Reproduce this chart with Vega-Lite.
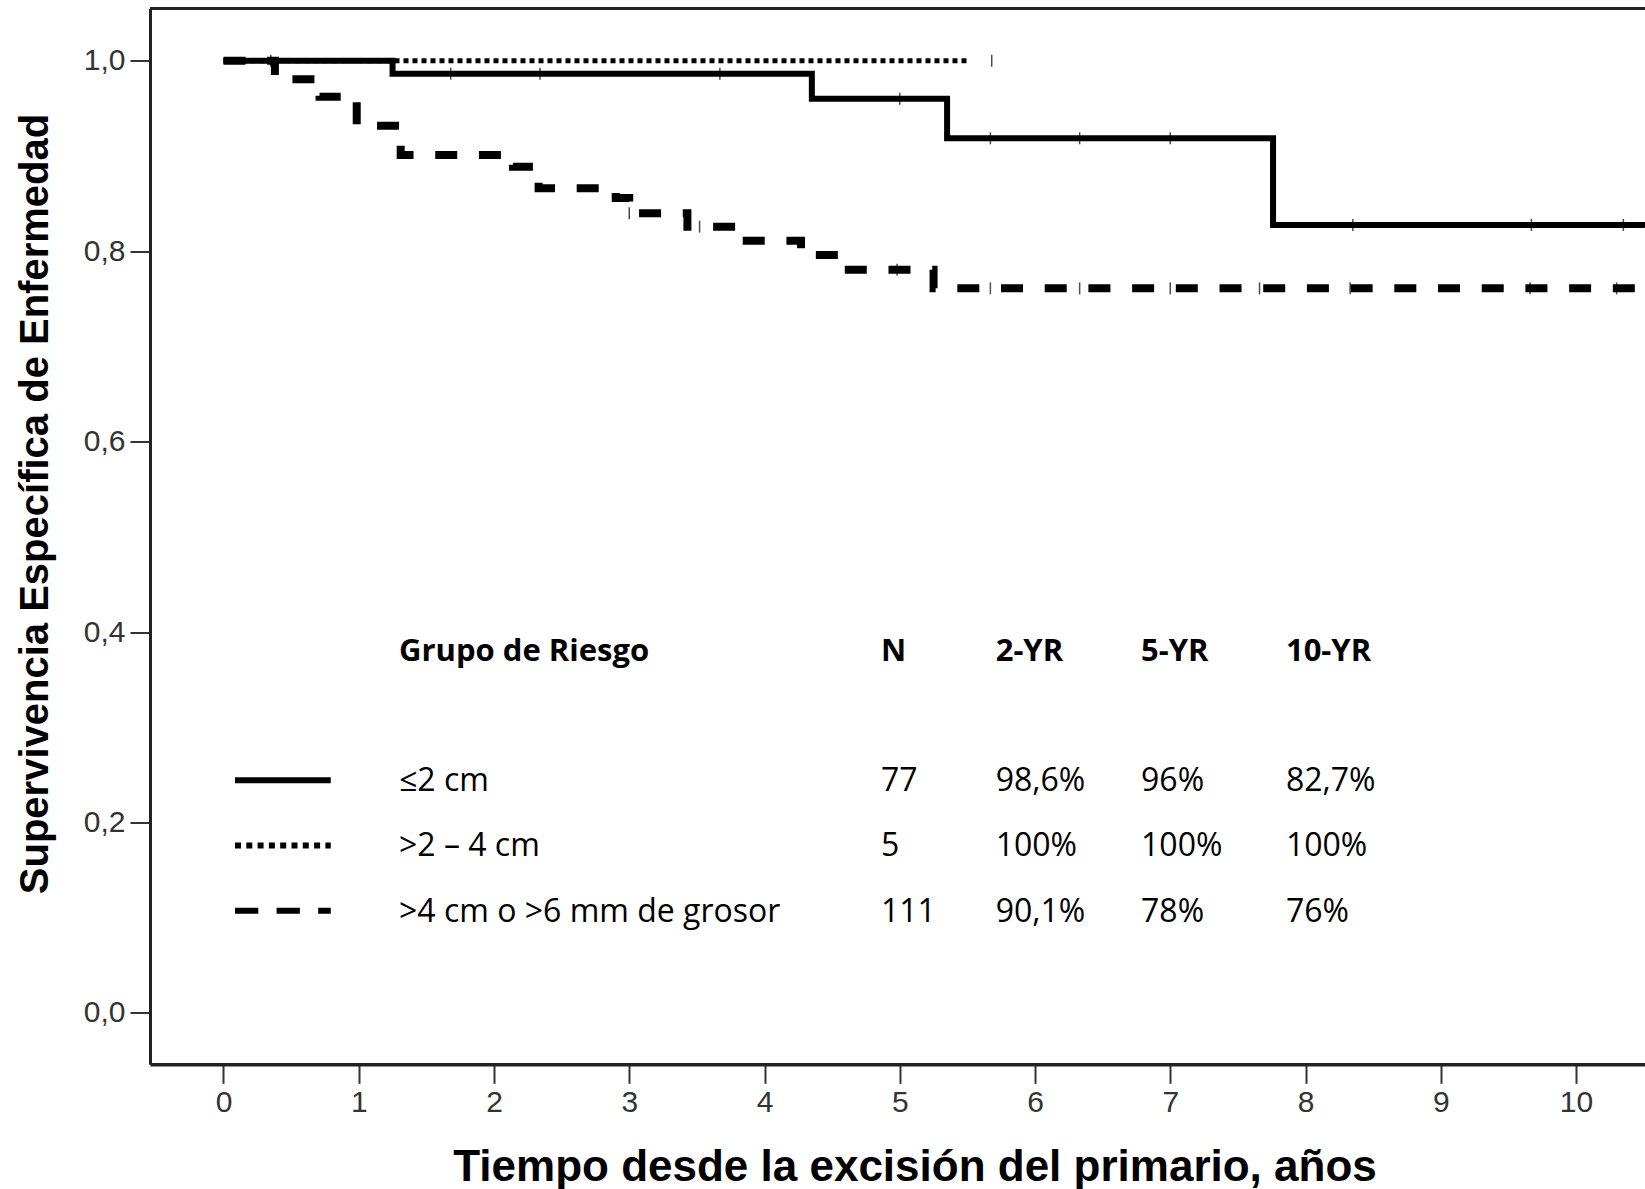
{
  "$schema": "https://vega.github.io/schema/vega-lite/v6.json",
  "width": 1495,
  "height": 1055.8,
  "autosize": {"type": "none"},
  "padding": {"left": 150, "top": 8.5, "right": 0, "bottom": 124.7},
  "background": "white",
  "config": {"view": {"stroke": null}, "font": "Liberation Sans"},
  "datasets": {
    "curvas": [
      {"grupo": ">4 cm o >6 mm de grosor", "t": 0, "s": 1.0},
      {"grupo": ">4 cm o >6 mm de grosor", "t": 0.38, "s": 0.9806},
      {"grupo": ">4 cm o >6 mm de grosor", "t": 0.71, "s": 0.9623},
      {"grupo": ">4 cm o >6 mm de grosor", "t": 0.985, "s": 0.9318},
      {"grupo": ">4 cm o >6 mm de grosor", "t": 1.31, "s": 0.9011},
      {"grupo": ">4 cm o >6 mm de grosor", "t": 2.14, "s": 0.8888},
      {"grupo": ">4 cm o >6 mm de grosor", "t": 2.33, "s": 0.8661},
      {"grupo": ">4 cm o >6 mm de grosor", "t": 2.9, "s": 0.8559},
      {"grupo": ">4 cm o >6 mm de grosor", "t": 3.0, "s": 0.8398},
      {"grupo": ">4 cm o >6 mm de grosor", "t": 3.43, "s": 0.8258},
      {"grupo": ">4 cm o >6 mm de grosor", "t": 3.8, "s": 0.811},
      {"grupo": ">4 cm o >6 mm de grosor", "t": 4.27, "s": 0.803},
      {"grupo": ">4 cm o >6 mm de grosor", "t": 4.37, "s": 0.796},
      {"grupo": ">4 cm o >6 mm de grosor", "t": 4.56, "s": 0.7805},
      {"grupo": ">4 cm o >6 mm de grosor", "t": 5.25, "s": 0.761},
      {"grupo": ">4 cm o >6 mm de grosor", "t": 10.51, "s": 0.761},
      {"grupo": "≤2 cm", "t": 0, "s": 1.0},
      {"grupo": "≤2 cm", "t": 1.25, "s": 0.9865},
      {"grupo": "≤2 cm", "t": 4.35, "s": 0.96},
      {"grupo": "≤2 cm", "t": 5.35, "s": 0.9186},
      {"grupo": "≤2 cm", "t": 7.76, "s": 0.8276},
      {"grupo": "≤2 cm", "t": 10.51, "s": 0.8276},
      {"grupo": ">2 – 4 cm", "t": 0, "s": 1.0},
      {"grupo": ">2 – 4 cm", "t": 5.5, "s": 1.0}
    ],
    "censuras": [
      {"grupo": "≤2 cm", "t": 1.68, "s": 0.9865},
      {"grupo": "≤2 cm", "t": 2.34, "s": 0.9865},
      {"grupo": "≤2 cm", "t": 3.67, "s": 0.9865},
      {"grupo": "≤2 cm", "t": 5.0, "s": 0.96},
      {"grupo": "≤2 cm", "t": 5.67, "s": 0.9186},
      {"grupo": "≤2 cm", "t": 6.33, "s": 0.9186},
      {"grupo": "≤2 cm", "t": 7.0, "s": 0.9186},
      {"grupo": "≤2 cm", "t": 8.35, "s": 0.8276},
      {"grupo": "≤2 cm", "t": 9.67, "s": 0.8276},
      {"grupo": "≤2 cm", "t": 10.35, "s": 0.8276},
      {"grupo": ">2 – 4 cm", "t": 5.68, "s": 1.0},
      {"grupo": ">4 cm o >6 mm de grosor", "t": 0.35, "s": 1.0},
      {"grupo": ">4 cm o >6 mm de grosor", "t": 3.0, "s": 0.8398},
      {"grupo": ">4 cm o >6 mm de grosor", "t": 3.52, "s": 0.8258},
      {"grupo": ">4 cm o >6 mm de grosor", "t": 4.98, "s": 0.7805},
      {"grupo": ">4 cm o >6 mm de grosor", "t": 5.67, "s": 0.761},
      {"grupo": ">4 cm o >6 mm de grosor", "t": 6.33, "s": 0.761},
      {"grupo": ">4 cm o >6 mm de grosor", "t": 7.0, "s": 0.761},
      {"grupo": ">4 cm o >6 mm de grosor", "t": 7.66, "s": 0.761},
      {"grupo": ">4 cm o >6 mm de grosor", "t": 8.33, "s": 0.761},
      {"grupo": ">4 cm o >6 mm de grosor", "t": 9.66, "s": 0.761},
      {"grupo": ">4 cm o >6 mm de grosor", "t": 10.3, "s": 0.761}
    ],
    "tabla": [
      {"grupo": "≤2 cm", "N": "77", "a2": "98,6%", "a5": "96%", "a10": "82,7%"},
      {"grupo": ">2 – 4 cm", "N": "5", "a2": "100%", "a5": "100%", "a10": "100%"},
      {"grupo": ">4 cm o >6 mm de grosor", "N": "111", "a2": "90,1%", "a5": "78%", "a10": "76%"}
    ],
    "encabezado": [
      {"grupo": "Grupo de Riesgo", "N": "N", "a2": "2-YR", "a5": "5-YR", "a10": "10-YR"}
    ]
  },
  "layer": [
    {
      "layer": [
        {
          "data": {"values": [{}]},
          "mark": {"type": "rule", "color": "#222", "strokeWidth": 3},
          "encoding": {"y": {"datum": 1.0549, "type": "quantitative"}}
        },
        {
          "data": {"name": "curvas"},
          "mark": {"type": "line", "interpolate": "step-after", "color": "black", "strokeCap": "butt", "strokeJoin": "miter"},
          "encoding": {
            "x": {
              "field": "t", "type": "quantitative",
              "scale": {"domain": [-0.5434, 10.51], "nice": false, "zero": false},
              "axis": {
                "values": [0, 1, 2, 3, 4, 5, 6, 7, 8, 9, 10],
                "format": "d",
                "grid": false,
                "title": "Tiempo desde la excisión del primario, años",
                "titleFont": "Liberation Sans", "titleFontSize": 44, "titleFontWeight": "bold", "titleColor": "black",
                "titleX": 764.5, "titleY": 115.7, "titleBaseline": "alphabetic", "titleAlign": "center", "titleAnchor": null,
                "labelFont": "Liberation Sans", "labelFontSize": 30, "labelColor": "#333",
                "labelPadding": 4, "labelFlush": false,
                "tickSize": 19, "tickWidth": 2, "tickColor": "#333",
                "domainWidth": 3.5, "domainColor": "#222"
              }
            },
            "y": {
              "field": "s", "type": "quantitative",
              "scale": {"domain": [-0.0539, 1.0549], "nice": false, "zero": false},
              "axis": {
                "values": [0, 0.2, 0.4, 0.6, 0.8, 1.0],
                "labelExpr": "replace(format(datum.value, '.1f'), '.', ',')",
                "grid": false,
                "title": "Supervivencia Específica de Enfermedad",
                "titleFont": "Liberation Sans", "titleFontSize": 40, "titleFontWeight": "bold", "titleColor": "black",
                "titleX": -103, "titleY": 495, "titleAngle": 270, "titleBaseline": "alphabetic", "titleAlign": "center", "titleAnchor": null,
                "labelFont": "Liberation Sans", "labelFontSize": 30, "labelColor": "#333",
                "labelPadding": 5, "labelFlush": false,
                "tickSize": 20, "tickWidth": 2, "tickColor": "#333",
                "domainWidth": 3, "domainColor": "#222"
              }
            },
            "detail": {"field": "grupo", "type": "nominal"},
            "strokeDash": {
              "field": "grupo", "type": "nominal",
              "scale": {"domain": ["≤2 cm", ">2 – 4 cm", ">4 cm o >6 mm de grosor"], "range": [[1, 0], [5, 4], [22, 21.7]]},
              "legend": null
            },
            "strokeWidth": {
              "field": "grupo", "type": "nominal",
              "scale": {"type": "ordinal", "domain": ["≤2 cm", ">2 – 4 cm", ">4 cm o >6 mm de grosor"], "range": [6, 5, 8]},
              "legend": null
            }
          }
        },
        {
          "data": {"name": "censuras"},
          "mark": {"type": "tick", "orient": "vertical", "size": 12, "thickness": 1.5, "color": "black"},
          "encoding": {
            "x": {"field": "t", "type": "quantitative"},
            "y": {"field": "s", "type": "quantitative"}
          }
        }
      ]
    },
    {
      "layer": [
        {
          "data": {"name": "tabla"},
          "mark": {"type": "rule", "color": "black", "strokeWidth": 6, "strokeCap": "butt", "yOffset": -11},
          "encoding": {
            "x": {"datum": 0.085, "type": "quantitative", "scale": {"domain": [-0.5434, 10.51], "nice": false, "zero": false}, "axis": null},
            "x2": {"datum": 0.793},
            "y": {
              "field": "grupo", "type": "nominal",
              "scale": {"type": "point", "domain": ["Grupo de Riesgo", "", "≤2 cm", ">2 – 4 cm", ">4 cm o >6 mm de grosor"], "range": [652.2, 913.2], "padding": 0},
              "axis": null
            },
            "strokeDash": {
              "field": "grupo", "type": "nominal",
              "scale": {"domain": ["≤2 cm", ">2 – 4 cm", ">4 cm o >6 mm de grosor"], "range": [[1, 0], [6, 5.3], [23.3, 18.3]]},
              "legend": null
            }
          }
        },
        {
          "data": {"name": "tabla"},
          "mark": {"type": "text", "font": "Open Sans", "fontSize": 32, "align": "left", "baseline": "alphabetic", "color": "black"},
          "encoding": {"x": {"datum": 1.2976, "type": "quantitative"}, "y": {"field": "grupo", "type": "nominal"}, "text": {"field": "grupo"}}
        },
        {
          "data": {"name": "tabla"},
          "mark": {"type": "text", "font": "Open Sans", "fontSize": 32, "align": "left", "baseline": "alphabetic", "color": "black"},
          "encoding": {"x": {"datum": 4.861, "type": "quantitative"}, "y": {"field": "grupo", "type": "nominal"}, "text": {"field": "N"}}
        },
        {
          "data": {"name": "tabla"},
          "mark": {"type": "text", "font": "Open Sans", "fontSize": 32, "align": "left", "baseline": "alphabetic", "color": "black"},
          "encoding": {"x": {"datum": 5.709, "type": "quantitative"}, "y": {"field": "grupo", "type": "nominal"}, "text": {"field": "a2"}}
        },
        {
          "data": {"name": "tabla"},
          "mark": {"type": "text", "font": "Open Sans", "fontSize": 32, "align": "left", "baseline": "alphabetic", "color": "black"},
          "encoding": {"x": {"datum": 6.784, "type": "quantitative"}, "y": {"field": "grupo", "type": "nominal"}, "text": {"field": "a5"}}
        },
        {
          "data": {"name": "tabla"},
          "mark": {"type": "text", "font": "Open Sans", "fontSize": 32, "align": "left", "baseline": "alphabetic", "color": "black"},
          "encoding": {"x": {"datum": 7.855, "type": "quantitative"}, "y": {"field": "grupo", "type": "nominal"}, "text": {"field": "a10"}}
        },
        {
          "data": {"name": "encabezado"},
          "mark": {"type": "text", "font": "Open Sans", "fontSize": 31, "fontWeight": "bold", "align": "left", "baseline": "alphabetic", "color": "black"},
          "encoding": {"x": {"datum": 1.2976, "type": "quantitative"}, "y": {"field": "grupo", "type": "nominal"}, "text": {"field": "grupo"}}
        },
        {
          "data": {"name": "encabezado"},
          "mark": {"type": "text", "font": "Open Sans", "fontSize": 31, "fontWeight": "bold", "align": "left", "baseline": "alphabetic", "color": "black"},
          "encoding": {"x": {"datum": 4.861, "type": "quantitative"}, "y": {"field": "grupo", "type": "nominal"}, "text": {"field": "N"}}
        },
        {
          "data": {"name": "encabezado"},
          "mark": {"type": "text", "font": "Open Sans", "fontSize": 31, "fontWeight": "bold", "align": "left", "baseline": "alphabetic", "color": "black"},
          "encoding": {"x": {"datum": 5.709, "type": "quantitative"}, "y": {"field": "grupo", "type": "nominal"}, "text": {"field": "a2"}}
        },
        {
          "data": {"name": "encabezado"},
          "mark": {"type": "text", "font": "Open Sans", "fontSize": 31, "fontWeight": "bold", "align": "left", "baseline": "alphabetic", "color": "black"},
          "encoding": {"x": {"datum": 6.784, "type": "quantitative"}, "y": {"field": "grupo", "type": "nominal"}, "text": {"field": "a5"}}
        },
        {
          "data": {"name": "encabezado"},
          "mark": {"type": "text", "font": "Open Sans", "fontSize": 31, "fontWeight": "bold", "align": "left", "baseline": "alphabetic", "color": "black"},
          "encoding": {"x": {"datum": 7.855, "type": "quantitative"}, "y": {"field": "grupo", "type": "nominal"}, "text": {"field": "a10"}}
        }
      ]
    }
  ],
  "resolve": {"scale": {"x": "independent", "y": "independent", "strokeDash": "independent", "strokeWidth": "independent"}}
}
